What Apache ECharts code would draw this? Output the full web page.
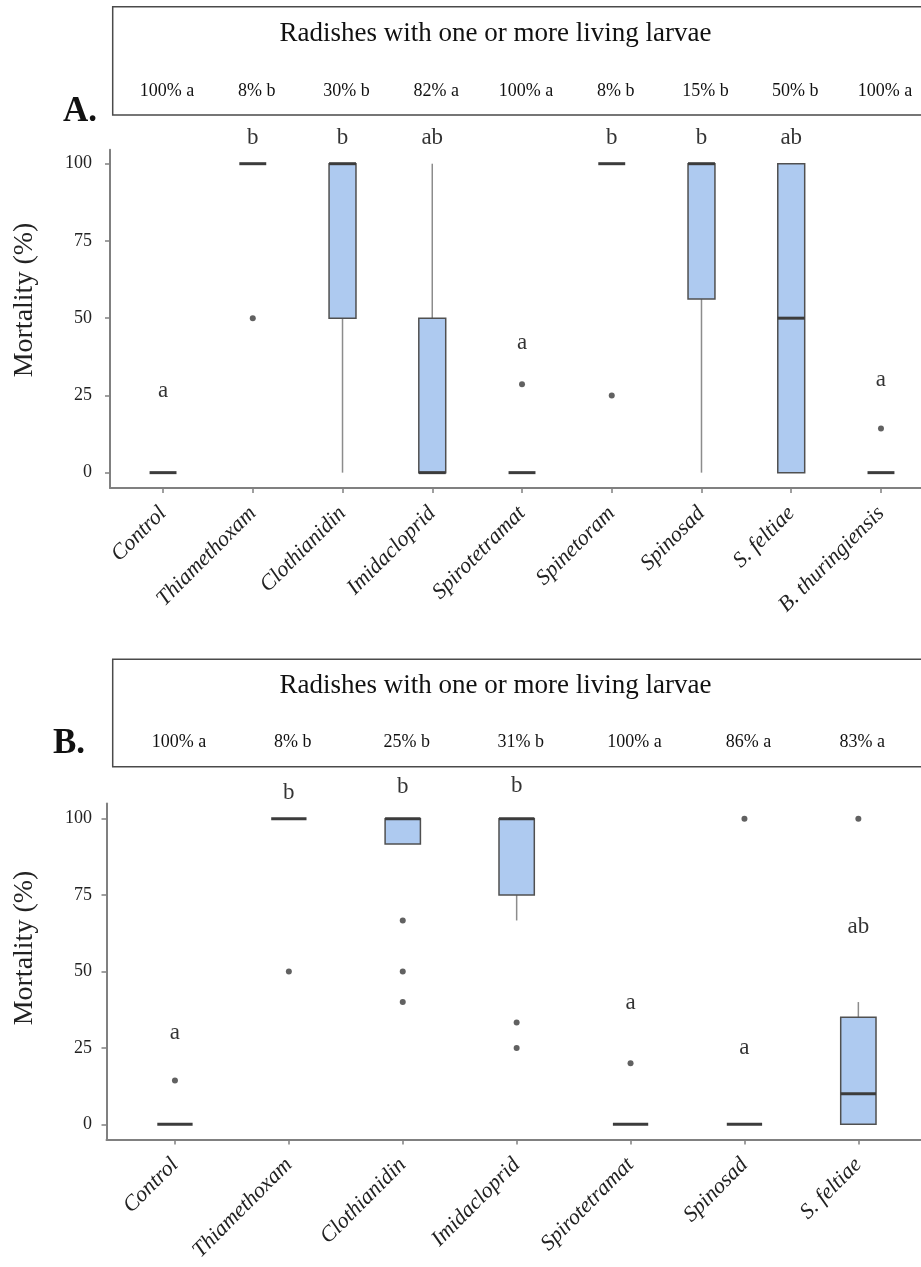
<!DOCTYPE html>
<html><head><meta charset="utf-8">
<script src="https://cdn.jsdelivr.net/npm/echarts@6/dist/echarts.min.js"></script>
<style>html,body{margin:0;padding:0;background:#fff}#c{width:921px;height:1267px}</style>
</head><body><div id="c"></div>
<script>
// ---------- Panel A data ----------
const categoriesA = ['Control','Thiamethoxam','Clothianidin','Imidacloprid','Spirotetramat','Spinetoram','Spinosad','S. feltiae','B. thuringiensis'];
// [min, Q1, median, Q3, max]
const boxesA = [[0,0,0,0,0],[100,100,100,100,100],[0,50,100,100,100],[0,0,0,50,100],[0,0,0,0,0],[100,100,100,100,100],[0,56.2,100,100,100],[0,0,50,100,100],[0,0,0,0,0]];
const outliersA = [[1,50],[4,28.6],[5,25],[8,14.3]];
const lettersA = ['a','b','b','ab','a','b','b','ab','a'];
const letterLevelA = [26.5,108.3,108.3,108.3,42,108.3,108.3,108.3,30];
const larvaeA = ['100% a','8% b','30% b','82% a','100% a','8% b','15% b','50% b','100% a'];

// ---------- Panel B data ----------
const categoriesB = ['Control','Thiamethoxam','Clothianidin','Imidacloprid','Spirotetramat','Spinosad','S. feltiae'];
const boxesB = [[0,0,0,0,0],[100,100,100,100,100],[91.7,91.7,100,100,100],[66.7,75,100,100,100],[0,0,0,0,0],[0,0,0,0,0],[0,0,10,35,40]];
const outliersB = [[0,14.3],[1,50],[2,66.7],[2,50],[2,40],[3,33.3],[3,25],[4,20],[5,100],[6,100]];
const lettersB = ['a','b','b','b','a','a','ab'];
const letterLevelB = [29.8,108.5,110.5,110.7,39.6,25.1,64.5];
const larvaeB = ['100% a','8% b','25% b','31% b','100% a','86% a','83% a'];

const yTicks = [0,25,50,75,100];
const headerTitle = 'Radishes with one or more living larvae';
const yTitle = 'Mortality (%)';

const FONT = '"Liberation Serif", "Times New Roman", serif';
const AXIS_COLOR = '#808080';

function makeRender(ratio) {
  return function (params, api) {
    const x = api.value(0);
    const lo = api.coord([x, api.value(1)]);
    const q1 = api.coord([x, api.value(2)]);
    const med = api.coord([x, api.value(3)]);
    const q3 = api.coord([x, api.value(4)]);
    const hi = api.coord([x, api.value(5)]);
    const w = api.size([1, 0])[0] * ratio;
    const ch = [];
    const wStyle = {stroke: '#8c8c8c', lineWidth: 1.5};
    if (q3[1] - hi[1] > 0.5) ch.push({type: 'line', shape: {x1: hi[0], y1: hi[1], x2: q3[0], y2: q3[1]}, style: wStyle});
    if (lo[1] - q1[1] > 0.5) ch.push({type: 'line', shape: {x1: lo[0], y1: lo[1], x2: q1[0], y2: q1[1]}, style: wStyle});
    if (q1[1] - q3[1] > 0.5) ch.push({type: 'rect', shape: {x: q3[0] - w / 2, y: q3[1], width: w, height: q1[1] - q3[1]}, style: {fill: '#aecaf0', stroke: '#505050', lineWidth: 1.5}});
    ch.push({type: 'line', shape: {x1: med[0] - w / 2, y1: med[1], x2: med[0] + w / 2, y2: med[1]}, style: {stroke: '#3c3c3c', lineWidth: 3}});
    return {type: 'group', children: ch};
  };
}

function xAxisFor(gi, cats, min, max) {
  const idx = cats.map((c, i) => i);
  return {
    gridIndex: gi, type: 'value', min: min, max: max,
    axisLine: {show: true, onZero: false, lineStyle: {color: AXIS_COLOR, width: 2}},
    axisTick: {show: true, customValues: idx, length: 5, lineStyle: {color: AXIS_COLOR, width: 1.5}},
    axisLabel: {show: true, customValues: idx, formatter: v => cats[Math.round(v)] || '', rotate: 45, margin: 22,
      fontFamily: FONT, fontStyle: 'italic', fontSize: 22, color: '#222'},
    splitLine: {show: false}
  };
}
function yAxisFor(gi, min, max, margin) {
  return {
    gridIndex: gi, type: 'value', min: min, max: max,
    axisLine: {show: true, onZero: false, lineStyle: {color: AXIS_COLOR, width: 2}},
    axisTick: {show: true, customValues: yTicks, length: 5, lineStyle: {color: AXIS_COLOR, width: 1.5}},
    axisLabel: {show: true, customValues: yTicks, margin: margin, fontFamily: FONT, fontSize: 18, color: '#222'},
    splitLine: {show: false}
  };
}

const chart = echarts.init(document.getElementById('c'), null, {renderer: 'canvas'});
const letterLabel = (arr) => ({show: true, position: 'inside', formatter: p => arr[p.dataIndex], fontFamily: FONT, fontSize: 23, color: '#000', textBorderWidth: 0});

chart.setOption({
  animation: false,
  backgroundColor: '#fff',
  grid: [
    {left: 110, top: 149.8, width: 811, height: 338.3},
    {left: 106.5, top: 803.4, width: 814.5, height: 336.2}
  ],
  xAxis: [xAxisFor(0, categoriesA, -0.591, 8.446), xAxisFor(1, categoriesB, -0.601, 6.55)],
  yAxis: [yAxisFor(0, -5, 104.5, 18), yAxisFor(1, -5, 105, 14.5)],
  series: [
    {type: 'custom', xAxisIndex: 0, yAxisIndex: 0, renderItem: makeRender(0.30), clip: false,
     encode: {x: 0, y: [1, 2, 3, 4, 5]}, data: boxesA.map((b, i) => [i].concat(b)), silent: true},
    {type: 'scatter', xAxisIndex: 0, yAxisIndex: 0, symbolSize: 6, itemStyle: {color: '#3a3a3a'}, data: outliersA, silent: true},
    {type: 'scatter', xAxisIndex: 0, yAxisIndex: 0, symbolSize: 2, itemStyle: {color: 'rgba(0,0,0,0)'}, clip: false,
     label: letterLabel(lettersA), data: letterLevelA.map((v, i) => [i, v]), silent: true},
    {type: 'custom', xAxisIndex: 1, yAxisIndex: 1, renderItem: makeRender(0.31), clip: false,
     encode: {x: 0, y: [1, 2, 3, 4, 5]}, data: boxesB.map((b, i) => [i].concat(b)), silent: true},
    {type: 'scatter', xAxisIndex: 1, yAxisIndex: 1, symbolSize: 6, itemStyle: {color: '#3a3a3a'}, data: outliersB, silent: true},
    {type: 'scatter', xAxisIndex: 1, yAxisIndex: 1, symbolSize: 2, itemStyle: {color: 'rgba(0,0,0,0)'}, clip: false,
     label: letterLabel(lettersB), data: letterLevelB.map((v, i) => [i, v]), silent: true}
  ]
});

function headerGraphics(xAxisIndex, cats, texts, top, bottom, titleY, rowY, letter, letterX, letterY, yTitleY) {
  const els = [];
  els.push({type: 'rect', shape: {x: 112.7, y: top, width: 900, height: bottom - top},
    style: {fill: 'none', stroke: '#4a4a4a', lineWidth: 1.5}, silent: true});
  els.push({type: 'text', x: 495.5, y: titleY, style: {text: headerTitle, font: '27px ' + FONT, fill: '#111', align: 'center', verticalAlign: 'middle'}, silent: true});
  texts.forEach((t, i) => {
    const px = chart.convertToPixel({xAxisIndex: xAxisIndex}, i);
    els.push({type: 'text', x: px + 4, y: rowY, style: {text: t, font: '18px ' + FONT, fill: '#111', align: 'center', verticalAlign: 'middle'}, silent: true});
  });
  els.push({type: 'text', x: letterX, y: letterY, style: {text: letter, font: 'bold 35px ' + FONT, fill: '#111', align: 'left', verticalAlign: 'middle'}, silent: true});
  els.push({type: 'text', x: 25, y: yTitleY, rotation: Math.PI / 2, style: {text: yTitle, font: '28px ' + FONT, fill: '#222', align: 'center', verticalAlign: 'middle'}, silent: true});
  return els;
}

chart.setOption({
  graphic: headerGraphics(0, categoriesA, larvaeA, 6.7, 115, 34, 91, 'A.', 63, 112, 300)
    .concat(headerGraphics(1, categoriesB, larvaeB, 659.3, 766.7, 686, 742, 'B.', 53, 744, 948))
});
</script>
</body></html>
